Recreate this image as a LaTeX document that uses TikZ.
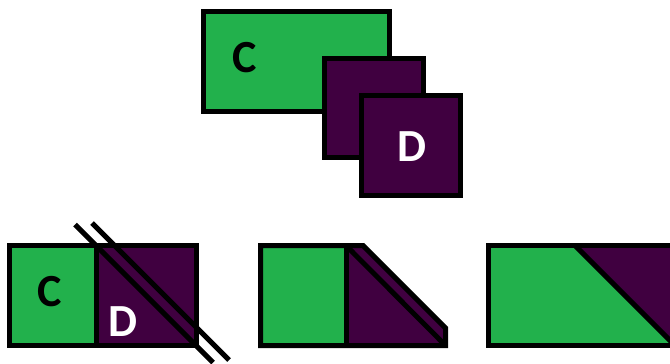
\documentclass[tikz,border=0pt]{standalone}
\usepackage{fontspec}
\setmainfont{Carlito}
\definecolor{cgreen}{HTML}{22B14C}
\definecolor{cpurple}{HTML}{400040}
\tikzset{
  blk/.style={draw=black,line width=5pt,inner sep=0pt,line join=miter},
  gbox/.style={blk,fill=cgreen},
  pbox/.style={blk,fill=cpurple},
  lett/.style={inner sep=0pt,font=\fontsize{46}{46}\selectfont\bfseries},
  cut/.style={draw=black,line width=5pt}
}
\begin{document}
\begin{tikzpicture}[x=1pt,y=-1pt]
\useasboundingbox (0,0) rectangle (670,364);
\clip (0,0) rectangle (670,364);
% top group
\node[gbox,minimum width=186pt,minimum height=100pt] (cbig) at (296.5,61.5) {};
\node[lett,text=black] (ctop) at (245,58) {C};
\node[pbox,minimum width=99pt,minimum height=99pt] (dmid) at (374,108) {};
\node[pbox,minimum width=99pt,minimum height=100pt] (dfront) at (411,145.5) {};
\node[lett,text=white] (dtop) at (412,147) {D};
% bottom left
\draw[gbox] (9.5,245.5) rectangle (96,345.5);
\draw[pbox] (96,245.5) rectangle (196.5,345.5);
\node[lett,text=black] (cbl) at (50,292) {C};
\node[lett,text=white] (dbl) at (123,322) {D};
\coordinate (l1a) at (75,224.5);
\coordinate (l1b) at (213,362.5);
\coordinate (l2a) at (92,223);
\coordinate (l2b) at (229,360);
\draw[cut] (l1a) -- (l1b);
\draw[cut] (l2a) -- (l2b);
% bottom middle
\fill[cpurple] (346,245.5) -- (363,245.5) -- (445.5,328) -- (445.5,345.5) -- (346,345.5) -- cycle;
\fill[cgreen] (260.5,245.5) rectangle (346,345.5);
\draw[blk] (346,245.5) -- (346,345.5);
\draw[blk] (346,245.5) -- (445.5,345.5);
\draw[blk] (260.5,245.5) -- (363,245.5) -- (445.5,328) -- (445.5,345.5) -- (260.5,345.5) -- cycle;
% bottom right
\fill[cpurple] (575,245.5) -- (680,245.5) -- (680,345.5) -- (675,345.5) -- cycle;
\fill[cgreen] (488.5,245.5) -- (575,245.5) -- (675,345.5) -- (488.5,345.5) -- cycle;
\draw[blk] (575,245.5) -- (675,345.5);
\draw[blk] (680,245.5) -- (488.5,245.5) -- (488.5,345.5) -- (680,345.5);
\end{tikzpicture}
\end{document}
